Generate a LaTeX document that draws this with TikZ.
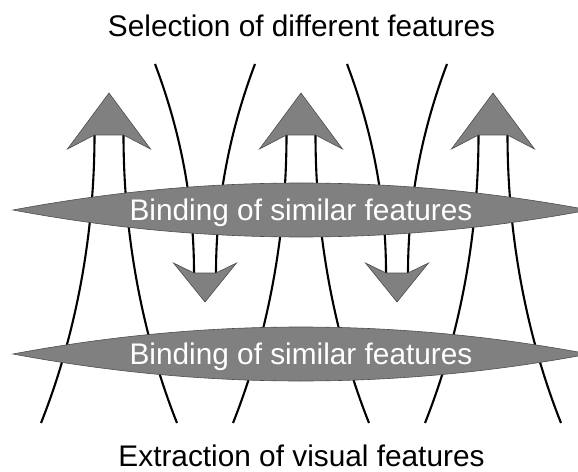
\documentclass[tikz,border=0pt]{standalone}
\usepackage{fontspec}
\setmainfont{Liberation Sans}
\definecolor{shapegray}{HTML}{808080}
\definecolor{edgegray}{HTML}{4D4D4D}
\begin{document}
\begin{tikzpicture}[x=1bp,y=-1bp,
  fibre/.style={line width=2.1bp, black, line cap=butt},
  headshape/.style={fill=shapegray, draw=edgegray, line width=0.6bp, line join=miter},
  lensshape/.style={fill=shapegray, draw=edgegray, line width=0.6bp},
  caption/.style={font=\fontsize{29.8bp}{34bp}\selectfont, inner sep=0pt, anchor=base},
  lenslabel/.style={caption, text=white}]
\useasboundingbox (0,0) rectangle (578,472);

% upward streams: two diverging fibres ending in a filled head
\foreach \x in {109,301,493}{
  \coordinate (ul) at (\x-14.5,135);
  \coordinate (ur) at (\x+14.5,135);
  \draw[fibre] (ul) .. controls (\x-14.5,240) and (\x-35,340) .. (\x-68,423);
  \draw[fibre] (ur) .. controls (\x+14.5,240) and (\x+35,340) .. (\x+68,423);
  \draw[headshape] (\x,93) -- (\x+41.5,149) -- (ur) -- (ul) -- (\x-41.5,149) -- cycle;
}

% downward streams
\foreach \x in {205,397}{
  \coordinate (dl) at (\x-11,273);
  \coordinate (dr) at (\x+11,273);
  \draw[fibre] (dl) .. controls (\x-11,200) and (\x-25,130) .. (\x-50,64);
  \draw[fibre] (dr) .. controls (\x+11,200) and (\x+25,130) .. (\x+50,64);
  \draw[headshape] (\x,302) -- (\x+31.5,263) -- (dr) -- (dl) -- (\x-31.5,263) -- cycle;
}

% binding lenses
\foreach \y in {210,354}{
  \draw[lensshape] (13,\y) .. controls (205,\y-36) and (397,\y-36) .. (589,\y)
                           .. controls (397,\y+36) and (205,\y+36) .. (13,\y) -- cycle;
}

\node[lenslabel] (bindupper) at (301,221) {Binding of similar features};
\node[lenslabel] (bindlower) at (301,364) {Binding of similar features};
\node[caption] (selection) at (301.5,37) {Selection of different features};
\node[caption] (extraction) at (301.5,466) {Extraction of visual features};
\end{tikzpicture}
\end{document}
